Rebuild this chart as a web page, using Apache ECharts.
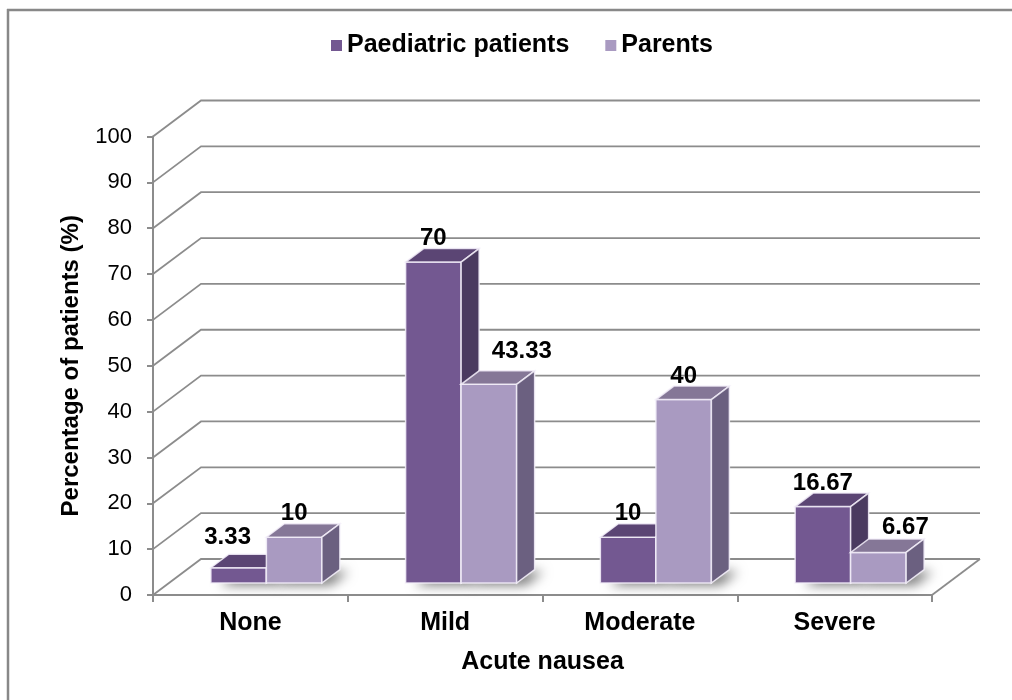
<!DOCTYPE html>
<html>
<head>
<meta charset="utf-8">
<script src="https://cdn.jsdelivr.net/npm/echarts@6/dist/echarts.min.js"></script>
<style>
  html, body { margin: 0; padding: 0; background: #ffffff; }
  #chart { width: 1012px; height: 700px; }
</style>
</head>
<body>
<div id="chart"></div>
<script>
// ---- data ----
const categories = ['None', 'Mild', 'Moderate', 'Severe'];
const seriesNames = ['Paediatric patients', 'Parents'];
const paediatric = [3.33, 70, 10, 16.67];
const parents = [10, 43.33, 40, 6.67];
const yTicks = [0, 10, 20, 30, 40, 50, 60, 70, 80, 90, 100];

// ---- styling / 3D projection ----
const WALL = [48, -36];      // back wall offset from the front plane
const BAR_SHIFT = [16, -12]; // front face of bars relative to the front plane
const BAR_DEPTH = [18, -13.5];
const BAR_FRAC = 0.285;      // bar width as fraction of category band
const COLORS = [
  { front: '#735891', top: '#5b4574', side: '#4a3a60' },
  { front: '#a99ac1', top: '#857797', side: '#6b6080' }
];
// manual label nudges (like the moved labels of the original)
const LABEL_NUDGE = { '0-0': [-11, -7], '1-1': [33, -9], '1-3': [27, -2] };
const GRID_COLOR = '#8c8c8c';
const FONT = '"Liberation Sans", Arial, sans-serif';

const chart = echarts.init(document.getElementById('chart'));

function gridRender(params, api) {
  const cs = params.coordSys;
  const v = api.value(1);
  const y = api.coord([0, v])[1];
  const children = [{
    type: 'polyline',
    shape: { points: [[cs.x, y], [cs.x + WALL[0], y + WALL[1]], [cs.x + cs.width + WALL[0], y + WALL[1]]] },
    style: { stroke: GRID_COLOR, lineWidth: 1.8, fill: null }
  }];
  if (v === 0) {
    children.push({
      type: 'line',
      shape: { x1: cs.x + cs.width, y1: y, x2: cs.x + cs.width + WALL[0], y2: y + WALL[1] },
      style: { stroke: GRID_COLOR, lineWidth: 1.8 }
    });
  }
  return { type: 'group', children: children };
}

function makeBarRender(s) {
  return function (params, api) {
    const i = api.value(0);
    const v = api.value(1);
    const band = api.size([1, 0])[0];
    const w = band * BAR_FRAC;
    const c = api.coord([i, 0]);
    const top = api.coord([i, v]);
    const x0 = (s === 0 ? c[0] - w : c[0]) + BAR_SHIFT[0];
    const x1 = x0 + w;
    const yb = c[1] + BAR_SHIFT[1];
    const yt = top[1] + BAR_SHIFT[1];
    const dx = BAR_DEPTH[0], dy = BAR_DEPTH[1];
    const col = COLORS[s];
    const edge = 'rgba(245,240,250,0.85)';
    const nudge = LABEL_NUDGE[s + '-' + i] || [0, 0];
    return {
      type: 'group',
      children: [
        {
          type: 'polygon',
          shape: { points: [[x0, yb], [x1, yb], [x1 + dx, yb + dy], [x0 + dx, yb + dy]] },
          style: { fill: '#ffffff', shadowBlur: 12, shadowColor: 'rgba(0,0,0,0.55)', shadowOffsetX: 9, shadowOffsetY: 2 }
        },
        {
          type: 'rect',
          shape: { x: x0, y: yt, width: w, height: yb - yt },
          style: { fill: col.front, stroke: edge, lineWidth: 1.5 }
        },
        {
          type: 'polygon',
          shape: { points: [[x0, yt], [x1, yt], [x1 + dx, yt + dy], [x0 + dx, yt + dy]] },
          style: { fill: col.top, stroke: edge, lineWidth: 1.5 }
        },
        {
          type: 'polygon',
          shape: { points: [[x1, yt], [x1 + dx, yt + dy], [x1 + dx, yb + dy], [x1, yb]] },
          style: { fill: col.side, stroke: edge, lineWidth: 1.5 }
        },
        {
          type: 'text',
          style: {
            text: String(v),
            x: x0 + w / 2 + nudge[0],
            y: yt + dy - 10 + nudge[1],
            textAlign: 'center',
            textVerticalAlign: 'middle',
            font: 'bold 24px ' + FONT,
            fill: '#000'
          }
        }
      ]
    };
  };
}

const option = {
  animation: false,
  backgroundColor: '#ffffff',
  color: [COLORS[0].front, COLORS[1].front],
  legend: {
    data: seriesNames,
    left: 331,
    top: 33,
    icon: 'rect',
    itemWidth: 11,
    itemHeight: 11,
    itemGap: 36,
    padding: 0,
    textStyle: { fontFamily: FONT, fontSize: 25, fontWeight: 'bold', color: '#000' }
  },
  grid: { left: 153, right: 80, top: 136.5, bottom: 105, containLabel: false },
  xAxis: {
    type: 'category',
    data: categories,
    name: 'Acute nausea',
    nameLocation: 'middle',
    nameGap: 55,
    nameTextStyle: { fontFamily: FONT, fontSize: 25, fontWeight: 'bold', color: '#000' },
    axisLine: { show: true, lineStyle: { color: GRID_COLOR, width: 2 } },
    axisTick: { show: true, length: 7, lineStyle: { color: GRID_COLOR, width: 2 } },
    axisLabel: { margin: 16, fontFamily: FONT, fontSize: 25, fontWeight: 'bold', color: '#000' },
    splitLine: { show: false }
  },
  yAxis: {
    type: 'value',
    min: 0,
    max: 100,
    interval: 10,
    name: 'Percentage of patients (%)',
    nameLocation: 'middle',
    nameGap: 70,
    nameTextStyle: { fontFamily: FONT, fontSize: 24, fontWeight: 'bold', color: '#000' },
    axisLine: { show: true, lineStyle: { color: GRID_COLOR, width: 2 } },
    axisTick: { show: true, length: 6, lineStyle: { color: GRID_COLOR, width: 2 } },
    axisLabel: { margin: 21, fontFamily: FONT, fontSize: 22, color: '#000' },
    splitLine: { show: false }
  },
  graphic: [
    { type: 'line', shape: { x1: 7, y1: 10, x2: 1012, y2: 10 }, style: { stroke: '#888', lineWidth: 2.5 }, z: 100 },
    { type: 'line', shape: { x1: 8, y1: 9, x2: 8, y2: 700 }, style: { stroke: '#888', lineWidth: 2.5 }, z: 100 }
  ],
  series: [
    {
      name: seriesNames[0],
      type: 'custom',
      clip: false,
      z: 3,
      itemStyle: { color: COLORS[0].front },
      renderItem: makeBarRender(0),
      encode: { x: 0, y: 1 },
      data: paediatric.map(function (v, i) { return [i, v]; })
    },
    {
      name: seriesNames[1],
      type: 'custom',
      clip: false,
      z: 4,
      itemStyle: { color: COLORS[1].front },
      renderItem: makeBarRender(1),
      encode: { x: 0, y: 1 },
      data: parents.map(function (v, i) { return [i, v]; })
    },
    {
      name: 'grid',
      type: 'custom',
      clip: false,
      silent: true,
      z: 1,
      itemStyle: { color: GRID_COLOR },
      renderItem: gridRender,
      encode: { x: 0, y: 1 },
      data: yTicks.map(function (v) { return [0, v]; })
    }
  ]
};
chart.setOption(option);
</script>
</body>
</html>
